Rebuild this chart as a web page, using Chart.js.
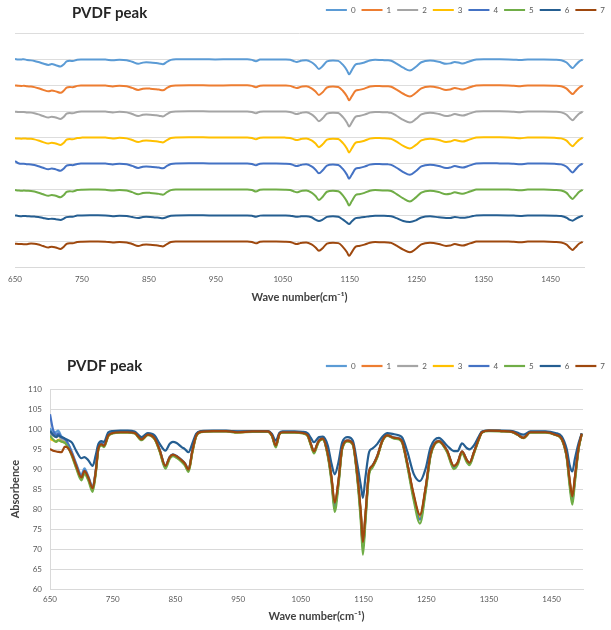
<!DOCTYPE html>
<html>
<head>
<meta charset="utf-8">
<script src="https://cdn.jsdelivr.net/npm/chart.js@4.4.1/dist/chart.umd.min.js"></script>
<style>
  body { margin: 0; background: #fff; }
  .box { position: absolute; left: 0; width: 611px; }
</style>
</head>
<body>
<div class="box" style="top:0; height:308px"><canvas id="stacked"></canvas></div>
<div class="box" style="top:340px; height:287px"><canvas id="overlay"></canvas></div>
<script>
// wave numbers (cm-1) sampled along the spectra
const waveNumbers = [650, 655, 660, 663, 668, 674, 679, 685, 692, 700,
  705, 711, 718, 723, 727, 732, 736, 743, 750, 762,
  774, 785, 796, 806, 817, 825, 834, 841, 846, 852,
  860, 865, 871, 877, 883, 891, 910, 931, 949, 973,
  997, 1004, 1010, 1016, 1021, 1040, 1053, 1061, 1066, 1071,
  1076, 1079, 1085, 1093, 1099, 1104, 1110, 1116, 1125, 1133,
  1140, 1146, 1149, 1153, 1159, 1164, 1172, 1180, 1188, 1199,
  1207, 1212, 1220, 1230, 1240, 1249, 1257, 1270, 1283, 1294,
  1300, 1307, 1315, 1319, 1326, 1334, 1339, 1350, 1370, 1387,
  1395, 1405, 1416, 1440, 1456, 1466, 1474, 1479, 1483, 1487,
  1493, 1498];

const absorb0 = [100.2, 99.0, 99.3, 99.6, 98.2, 97.4, 96.3, 94.2, 91.3, 88.6,
  90.2, 88.2, 85.6, 89.8, 95.4, 96.5, 96.1, 98.6, 99.1, 99.3,
  99.3, 99.1, 97.5, 98.7, 97.7, 94.8, 90.8, 93.1, 93.7, 93.3,
  92.3, 91.5, 90.0, 94.6, 98.4, 99.4, 99.5, 99.5, 99.3, 99.4,
  99.4, 98.4, 95.9, 98.9, 99.2, 99.2, 99.0, 98.4, 96.3, 94.4,
  96.2, 97.2, 97.7, 93.8, 87.7, 80.8, 86.9, 95.4, 97.2, 96.4,
  88.6, 78.1, 70.7, 78.3, 89.6, 90.9, 93.4, 97.2, 98.5, 97.9,
  97.7, 96.8, 91.3, 83.3, 77.9, 85.2, 93.8, 97.1, 94.7, 90.7,
  91.6, 94.4, 92.2, 91.5, 94.2, 97.7, 99.3, 99.6, 99.5, 99.3,
  98.8, 97.9, 99.3, 99.3, 98.7, 97.7, 93.3, 86.7, 82.6, 87.7,
  95.4, 98.9];

const absorb1 = [99.2, 98.6, 98.3, 98.5, 97.6, 97.2, 96.0, 93.8, 90.8, 87.9,
  89.4, 87.8, 85.0, 89.4, 95.0, 96.2, 95.8, 98.4, 99.0, 99.2,
  99.2, 99.0, 97.4, 98.6, 97.6, 94.6, 90.6, 92.9, 93.5, 93.1,
  92.1, 91.3, 89.8, 94.4, 98.3, 99.3, 99.5, 99.5, 99.2, 99.4,
  99.4, 98.4, 95.8, 98.8, 99.2, 99.2, 99.0, 98.4, 96.2, 94.3,
  96.1, 97.1, 97.6, 93.7, 87.6, 80.9, 86.8, 95.3, 97.1, 96.3,
  88.5, 78.0, 70.9, 78.2, 89.4, 90.7, 93.2, 97.1, 98.4, 97.8,
  97.6, 96.7, 91.2, 83.3, 78.1, 85.1, 93.7, 97.0, 94.6, 90.6,
  91.5, 94.3, 92.1, 91.4, 94.1, 97.6, 99.2, 99.6, 99.5, 99.3,
  98.7, 97.8, 99.2, 99.2, 98.6, 97.6, 93.2, 86.6, 82.6, 87.6,
  95.3, 98.8];

const absorb2 = [98.9, 98.3, 98.0, 98.4, 97.4, 97.0, 95.8, 93.6, 90.5, 87.6,
  89.2, 87.6, 84.8, 89.2, 94.9, 96.1, 95.7, 98.3, 99.0, 99.2,
  99.2, 99.0, 97.3, 98.6, 97.5, 94.5, 90.5, 92.8, 93.4, 93.0,
  92.0, 91.2, 89.6, 94.3, 98.2, 99.3, 99.5, 99.5, 99.2, 99.4,
  99.4, 98.3, 95.7, 98.8, 99.2, 99.2, 99.0, 98.3, 96.1, 94.2,
  96.0, 97.0, 97.5, 93.5, 87.3, 80.5, 86.5, 95.2, 97.0, 96.2,
  88.2, 77.5, 70.4, 77.8, 89.2, 90.6, 93.1, 97.0, 98.4, 97.7,
  97.5, 96.6, 91.0, 83.0, 77.8, 84.9, 93.6, 97.0, 94.5, 90.4,
  91.4, 94.2, 92.0, 91.3, 94.0, 97.5, 99.2, 99.6, 99.5, 99.3,
  98.7, 97.8, 99.2, 99.2, 98.6, 97.5, 93.0, 86.3, 82.3, 87.4,
  95.2, 98.8];

const absorb3 = [97.6, 97.2, 96.9, 97.3, 96.9, 96.6, 95.6, 93.4, 90.4, 87.7,
  89.3, 87.7, 84.9, 89.3, 94.9, 96.1, 95.7, 98.3, 99.0, 99.2,
  99.2, 99.0, 97.3, 98.6, 97.5, 94.5, 90.6, 92.8, 93.4, 93.0,
  92.0, 91.2, 89.7, 94.3, 98.2, 99.3, 99.5, 99.5, 99.2, 99.4,
  99.4, 98.3, 95.8, 98.8, 99.2, 99.2, 99.0, 98.3, 96.1, 94.2,
  96.0, 97.0, 97.5, 93.6, 87.5, 80.7, 86.6, 95.2, 97.0, 96.2,
  88.3, 77.7, 70.6, 78.0, 89.3, 90.6, 93.1, 97.0, 98.4, 97.7,
  97.5, 96.6, 91.1, 83.1, 78.0, 85.0, 93.6, 97.0, 94.5, 90.5,
  91.4, 94.2, 92.0, 91.3, 94.0, 97.5, 99.2, 99.6, 99.5, 99.3,
  98.7, 97.8, 99.2, 99.2, 98.6, 97.5, 93.1, 86.4, 82.5, 87.5,
  95.2, 98.8];

const absorb4 = [103.7, 99.8, 98.6, 98.9, 98.0, 97.5, 96.2, 94.0, 91.0, 88.2,
  89.7, 88.0, 85.3, 89.6, 95.2, 96.4, 96.0, 98.5, 99.1, 99.3,
  99.3, 99.1, 97.5, 98.7, 97.7, 94.7, 90.7, 93.0, 93.6, 93.2,
  92.2, 91.4, 89.9, 94.5, 98.4, 99.4, 99.5, 99.5, 99.3, 99.4,
  99.4, 98.4, 95.8, 98.9, 99.2, 99.2, 99.0, 98.4, 96.2, 94.3,
  96.1, 97.1, 97.6, 93.6, 87.4, 80.3, 86.6, 95.3, 97.1, 96.3,
  88.3, 77.4, 70.1, 77.7, 89.3, 90.7, 93.2, 97.1, 98.4, 97.8,
  97.6, 96.7, 91.1, 82.9, 77.4, 84.8, 93.6, 97.0, 94.6, 90.5,
  91.5, 94.3, 92.1, 91.4, 94.1, 97.6, 99.2, 99.6, 99.5, 99.3,
  98.7, 97.8, 99.2, 99.2, 98.6, 97.6, 93.1, 86.2, 82.0, 87.3,
  95.3, 98.8];

const absorb5 = [98.3, 97.4, 96.8, 97.2, 96.9, 96.5, 95.4, 93.2, 90.1, 87.2,
  88.8, 87.2, 84.3, 88.9, 94.7, 95.9, 95.5, 98.2, 98.9, 99.1,
  99.1, 98.9, 97.2, 98.5, 97.4, 94.3, 90.1, 92.6, 93.2, 92.8,
  91.8, 90.9, 89.3, 94.1, 98.1, 99.2, 99.4, 99.4, 99.1, 99.3,
  99.3, 98.2, 95.4, 98.7, 99.1, 99.1, 98.9, 98.2, 95.9, 93.9,
  95.8, 96.9, 97.4, 93.2, 86.7, 79.3, 85.8, 95.0, 96.9, 96.0,
  87.6, 76.0, 68.6, 76.6, 88.7, 90.3, 92.9, 96.9, 98.3, 97.6,
  97.4, 96.4, 90.6, 82.2, 76.4, 84.2, 93.3, 96.8, 94.3, 90.0,
  91.0, 93.9, 91.6, 91.0, 93.8, 97.4, 99.1, 99.5, 99.4, 99.2,
  98.6, 97.7, 99.1, 99.1, 98.5, 97.4, 92.8, 85.3, 81.1, 86.5,
  94.9, 98.7];

const absorb6 = [99.5, 98.5, 98.0, 98.4, 98.0, 97.6, 97.2, 96.6, 94.5, 92.7,
  93.0, 92.2, 90.8, 93.5, 96.2, 97.0, 96.8, 99.2, 99.5, 99.6,
  99.6, 99.4, 98.0, 99.0, 98.4, 96.3, 94.6, 96.3, 96.8, 96.5,
  95.5, 95.0, 94.2, 96.4, 98.8, 99.5, 99.6, 99.6, 99.4, 99.5,
  99.5, 98.8, 97.1, 99.1, 99.4, 99.4, 99.3, 98.9, 97.8, 96.7,
  97.5, 98.0, 98.1, 95.9, 91.3, 88.7, 91.7, 96.7, 98.0, 97.1,
  91.3, 85.6, 82.8, 87.9, 94.3, 95.1, 96.3, 98.1, 99.0, 98.7,
  98.4, 97.8, 94.3, 88.8, 87.0, 90.1, 95.5, 97.8, 95.9, 94.5,
  94.5, 96.4, 95.2, 94.9, 95.9, 98.2, 99.4, 99.6, 99.6, 99.5,
  99.1, 98.6, 99.4, 99.4, 99.0, 98.2, 95.0, 90.8, 89.4, 92.5,
  96.5, 98.9];

const absorb7 = [95.0, 94.6, 94.4, 94.3, 94.2, 95.6, 95.2, 93.6, 90.7, 87.9,
  89.5, 87.9, 85.2, 89.5, 95.0, 96.2, 95.8, 98.4, 99.0, 99.2,
  99.2, 99.0, 97.4, 98.6, 97.6, 94.7, 90.8, 93.0, 93.6, 93.2,
  92.2, 91.4, 89.9, 94.5, 98.3, 99.3, 99.5, 99.5, 99.2, 99.4,
  99.4, 98.4, 95.9, 98.8, 99.2, 99.2, 99.0, 98.4, 96.3, 94.4,
  96.2, 97.1, 97.6, 93.8, 87.9, 81.6, 87.1, 95.4, 97.1, 96.3,
  88.7, 78.6, 71.8, 78.6, 89.5, 90.8, 93.3, 97.1, 98.4, 97.8,
  97.6, 96.7, 91.3, 83.7, 78.6, 85.4, 93.8, 97.0, 94.7, 90.8,
  91.6, 94.4, 92.2, 91.6, 94.2, 97.6, 99.2, 99.6, 99.5, 99.3,
  98.7, 97.8, 99.2, 99.2, 98.6, 97.6, 93.3, 87.0, 83.2, 87.9,
  95.4, 98.8];

const seriesValues = [absorb0, absorb1, absorb2, absorb3, absorb4, absorb5, absorb6, absorb7];
const seriesLabels = ['0', '1', '2', '3', '4', '5', '6', '7'];
const xTickValues = [650, 750, 850, 950, 1050, 1150, 1250, 1350, 1450];
const chartTitle = 'PVDF peak';
const xTitle = 'Wave number(cm⁻¹)';
const yTitle = 'Absorbence';

// excel office palette
const colors = ['#5B9BD5', '#ED7D31', '#A5A5A5', '#FFC000', '#4472C4', '#70AD47', '#255E91', '#9E480E'];
// vertical shift of each trace in the stacked view
const stackShift = [300, 250, 200, 150, 100, 50, 0, -50];

Chart.defaults.font.family = 'Lato, "Open Sans", sans-serif';
Chart.defaults.color = '#595959';

const cornerTitle = {
    id: 'cornerTitle',
    afterDraw(chart, args, opts) {
        const c = chart.ctx;
        c.save();
        c.font = 'bold 15px Lato';
        c.fillStyle = '#262626';
        c.textBaseline = 'middle';
        c.fillText(opts.text, opts.x, opts.y);
        c.restore();
    }
};

const legendGap = {
    id: 'legendGap',
    beforeInit(chart) {
        const fit = chart.legend.fit;
        chart.legend.fit = function () {
            fit.call(this);
            this.height += 9;
        };
    }
};

function makeSets(shifts, width) {
    return seriesValues.map((vals, i) => ({
        label: seriesLabels[i],
        data: vals.map((v, j) => ({ x: waveNumbers[j], y: v + (shifts ? shifts[i] : 0) })),
        borderColor: colors[i],
        backgroundColor: colors[i],
        borderWidth: width,
        pointRadius: 0,
        pointHoverRadius: 0,
        cubicInterpolationMode: 'monotone',
        order: seriesValues.length - i
    }));
}

function xAxis(tickPad, titlePad) {
    return {
        type: 'linear',
        min: 650,
        max: 1500,
        grid: { display: false, drawTicks: false },
        border: { display: true, color: '#D9D9D9' },
        ticks: {
            padding: tickPad, autoSkip: false, maxRotation: 0,
            font: { size: 8 }, color: '#595959',
            callback: v => String(v)
        },
        afterBuildTicks(s) { s.ticks = xTickValues.map(v => ({ value: v })); },
        title: { display: true, text: xTitle, color: '#404040', font: { size: 11, weight: 'bold' }, padding: { top: titlePad, bottom: 4 } }
    };
}

function padAxis(w) {
    return {
        type: 'linear', axis: 'y', position: 'right', display: true,
        grid: { display: false }, border: { display: false }, ticks: { display: false },
        afterFit(s) { s.width = w; }
    };
}

function legendOpts() {
    return {
        position: 'top',
        align: 'end',
        labels: {
            usePointStyle: true,
            pointStyle: 'line',
            pointStyleWidth: 21,
            boxHeight: 8,
            padding: 6,
            color: '#595959',
            font: { size: 8 },
            sort: (a, b) => a.datasetIndex - b.datasetIndex
        }
    };
}

new Chart(document.getElementById('stacked'), {
    type: 'line',
    data: { datasets: makeSets(stackShift, 2) },
    options: {
        responsive: true,
        maintainAspectRatio: false,
        animation: false,
        events: [],
        layout: { padding: { top: 0, left: 0, right: 0, bottom: 0 } },
        scales: {
            x: xAxis(7, 0),
            y: {
                min: 0, max: 450,
                ticks: { display: false, stepSize: 50 },
                grid: { color: '#DDDDDD', drawTicks: false },
                border: { display: false },
                afterFit(s) { s.width = 15; }
            },
            yPad: padAxis(27)
        },
        plugins: {
            legend: legendOpts(),
            tooltip: { enabled: false },
            cornerTitle: { text: chartTitle, x: 72, y: 13 }
        }
    },
    plugins: [cornerTitle, legendGap]
});

new Chart(document.getElementById('overlay'), {
    type: 'line',
    data: { datasets: makeSets(null, 2.2) },
    options: {
        responsive: true,
        maintainAspectRatio: false,
        animation: false,
        events: [],
        layout: { padding: { top: 16, left: 5, right: 0, bottom: 0 } },
        scales: {
            x: xAxis(5, 1),
            y: {
                min: 60, max: 110,
                ticks: { stepSize: 5, padding: 8, font: { size: 8 }, color: '#595959' },
                grid: { color: '#D9D9D9', drawTicks: false },
                border: { display: true, color: '#D9D9D9' },
                title: { display: true, text: yTitle, color: '#404040', font: { size: 11, weight: 'bold' }, padding: { top: 4, bottom: 4 } },
                afterFit(s) { s.width = 45; }
            },
            yPad: padAxis(28)
        },
        plugins: {
            legend: legendOpts(),
            tooltip: { enabled: false },
            cornerTitle: { text: chartTitle, x: 67, y: 26 }
        }
    },
    plugins: [cornerTitle, legendGap]
});
</script>
</body>
</html>
